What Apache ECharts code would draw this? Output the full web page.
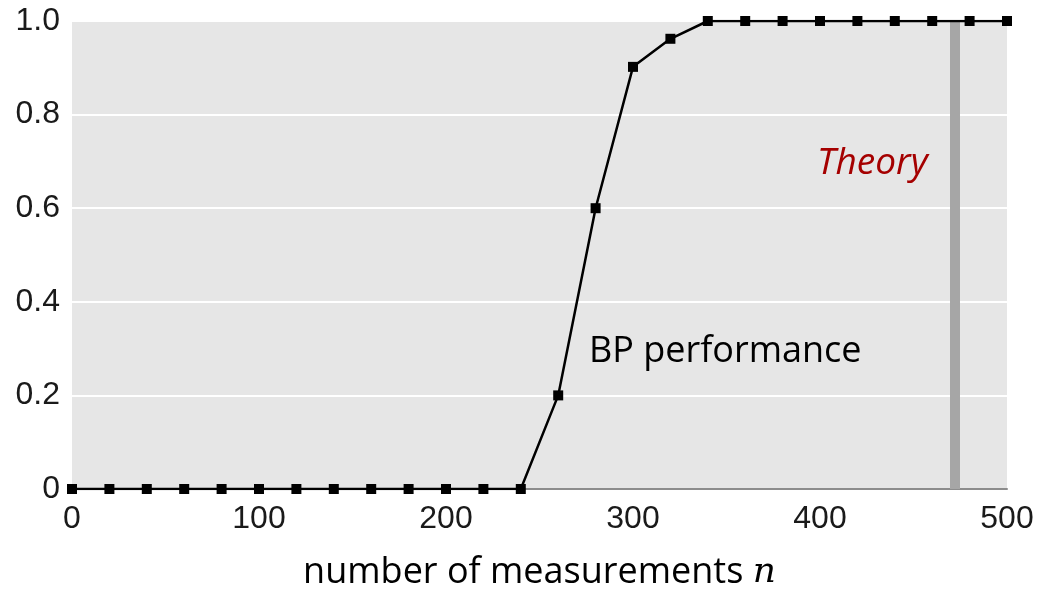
<!DOCTYPE html>
<html>
<head>
<meta charset="utf-8">
<script src="https://cdn.jsdelivr.net/npm/echarts@6/dist/echarts.min.js"></script>
<style>
html,body{margin:0;padding:0;background:#fff;}
#chart{width:1037px;height:590px;}
</style>
</head>
<body>
<div id="chart"></div>
<script>
const measurements = [0,20,40,60,80,100,120,140,160,180,200,220,240,260,280,300,320,340,360,380,400,420,440,460,480,500];
const bpPerformance = [0,0,0,0,0,0,0,0,0,0,0,0,0,0.2,0.6,0.902,0.962,1,1,1,1,1,1,1,1,1];
const theoryN = 472;
const xTicks = [0,100,200,300,400,500];
const yTicks = [0,0.2,0.4,0.6,0.8,1.0];

const chart = echarts.init(document.getElementById('chart'));
const tickFont = '"Liberation Sans", sans-serif';
chart.setOption({
  animation: false,
  grid: {left: 72, right: 30, top: 21, bottom: 101, show: true, backgroundColor: '#e6e6e6', borderWidth: 0, containLabel: false, outerBoundsMode: 'none'},
  xAxis: {
    type: 'value', min: 0, max: 500, interval: 100,
    axisLine: {show: true, lineStyle: {color: '#8c8c8c', width: 2}},
    axisTick: {show: false},
    splitLine: {show: false},
    axisLabel: {color: '#1a1a1a', fontSize: 32, fontFamily: tickFont, margin: 14},
    name: '{a|number of measurements }{b|n}',
    nameLocation: 'middle', nameGap: 66,
    nameTextStyle: {
      rich: {
        a: {fontFamily: '"Open Sans", sans-serif', fontSize: 36, color: '#000'},
        b: {fontFamily: '"DejaVu Serif", "Liberation Serif", serif', fontStyle: 'italic', fontSize: 36, color: '#000'}
      }
    }
  },
  yAxis: {
    type: 'value', min: 0, max: 1, interval: 0.2,
    axisLine: {show: false}, axisTick: {show: false},
    splitLine: {show: true, lineStyle: {color: '#ffffff', width: 2}},
    axisLabel: {color: '#1a1a1a', fontSize: 32, fontFamily: tickFont, margin: 12,
      formatter: v => v === 0 ? '0' : v.toFixed(1)}
  },
  series: [{
    type: 'line',
    data: measurements.map((x, i) => [x, bpPerformance[i]]),
    symbol: 'rect', symbolSize: 10,
    itemStyle: {color: '#000'},
    lineStyle: {color: '#000', width: 2.5},
    z: 5,
    markLine: {
      silent: true, symbol: 'none', label: {show: false},
      lineStyle: {color: '#a6a6a6', width: 10, type: 'solid'},
      data: [{xAxis: theoryN}],
      z: 2
    }
  }],
  graphic: [
    {type: 'text', x: 589, y: 352, style: {text: 'BP performance', font: '36px "Open Sans", sans-serif', fill: '#000', verticalAlign: 'middle', align: 'left'}},
    {type: 'text', x: 817, y: 163, style: {text: 'Theory', font: 'italic 37px "Open Sans", sans-serif', fill: '#a50000', verticalAlign: 'middle', align: 'left'}}
  ]
});
</script>
</body>
</html>
